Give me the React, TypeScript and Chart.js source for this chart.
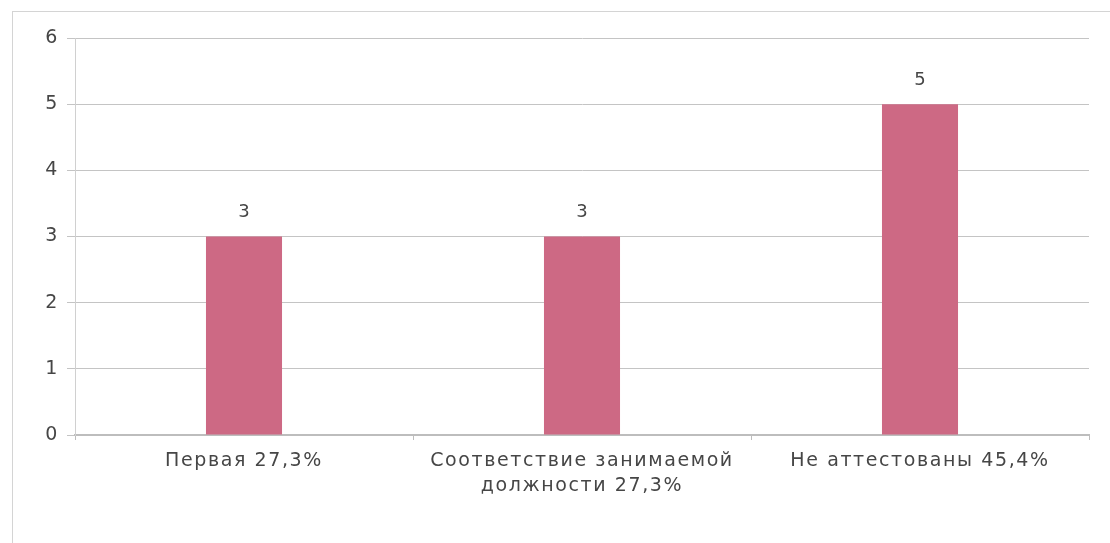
import React, { useEffect, useRef } from "react";
import { Chart, registerables } from "chart.js";

Chart.register(...registerables);

const categories: (string | string[])[] = [
  "Первая 27,3%",
  ["Соответствие занимаемой", "должности 27,3%"],
  "Не аттестованы 45,4%",
];
const values: number[] = [3, 3, 5];
const yTicks: number[] = [0, 1, 2, 3, 4, 5, 6];

const FONT = "'DejaVu Sans', Verdana, sans-serif";
const TEXT = "#464646";
const SPACING = "1.6px";

const spacingPlugin = {
  id: "spacing",
  beforeUpdate(chart: any) {
    chart.ctx.letterSpacing = SPACING;
  },
  beforeDraw(chart: any) {
    chart.ctx.letterSpacing = SPACING;
  },
};

const valueLabels = {
  id: "valueLabels",
  afterDatasetsDraw(chart: any) {
    const ctx = chart.ctx;
    const meta = chart.getDatasetMeta(0);
    ctx.save();
    ctx.letterSpacing = "0px";
    ctx.font = `18px ${FONT}`;
    ctx.fillStyle = TEXT;
    ctx.textAlign = "center";
    ctx.textBaseline = "middle";
    meta.data.forEach((bar: any, i: number) => {
      ctx.fillText(String(values[i]), bar.x, bar.y - 24);
    });
    ctx.restore();
  },
};

export default function App() {
  const ref = useRef<HTMLCanvasElement | null>(null);
  useEffect(() => {
    if (!ref.current) return;
    const chart = new Chart(ref.current, {
      type: "bar",
      data: {
        labels: categories,
        datasets: [
          {
            data: values,
            backgroundColor: "#cd6984",
            borderWidth: 0,
            categoryPercentage: 1,
            barPercentage: 0.225,
          },
        ],
      },
      options: {
        animation: false,
        responsive: false,
        maintainAspectRatio: false,
        layout: { padding: { top: 38, right: 21, left: 0, bottom: 0 } },
        plugins: {
          legend: { display: false },
          tooltip: { enabled: false },
          title: { display: false },
        },
        scales: {
          x: {
            afterFit: (s: any) => {
              s.height = 108;
            },
            grid: {
              display: true,
              drawOnChartArea: false,
              drawTicks: true,
              tickLength: 5,
              color: "#bdbdbd",
              offset: true,
            },
            border: { display: true, color: "#bdbdbd", width: 2 },
            ticks: {
              color: TEXT,
              padding: 9,
              maxRotation: 0,
              autoSkip: false,
              font: { family: FONT, size: 19, lineHeight: 25 / 19 },
            },
          },
          y: {
            min: 0,
            max: 6,
            afterFit: (s: any) => {
              s.width = 75;
            },
            afterBuildTicks: (s: any) => {
              s.ticks = yTicks.map((v) => ({ value: v }));
            },
            grid: {
              color: "#c4c4c4",
              lineWidth: 1,
              drawTicks: true,
              tickLength: 8,
            },
            border: { display: true, color: "#d0d0d0" },
            ticks: {
              color: TEXT,
              padding: 8,
              font: { family: FONT, size: 19 },
            },
          },
        },
      },
      plugins: [spacingPlugin, valueLabels],
    });
    return () => chart.destroy();
  }, []);

  return (
    <div
      style={{
        position: "fixed",
        left: 0,
        top: 0,
        width: 1110,
        height: 543,
        background: "#fff",
        overflow: "hidden",
      }}
    >
      <div
        style={{
          position: "absolute",
          left: 12,
          top: 11,
          width: 1200,
          height: 700,
          borderTop: "1px solid #d4d4d4",
          borderLeft: "1px solid #d4d4d4",
        }}
      />
      <canvas
        ref={ref}
        width={1110}
        height={543}
        style={{ position: "absolute", left: 0, top: 0, width: 1110, height: 543 }}
      />
    </div>
  );
}
